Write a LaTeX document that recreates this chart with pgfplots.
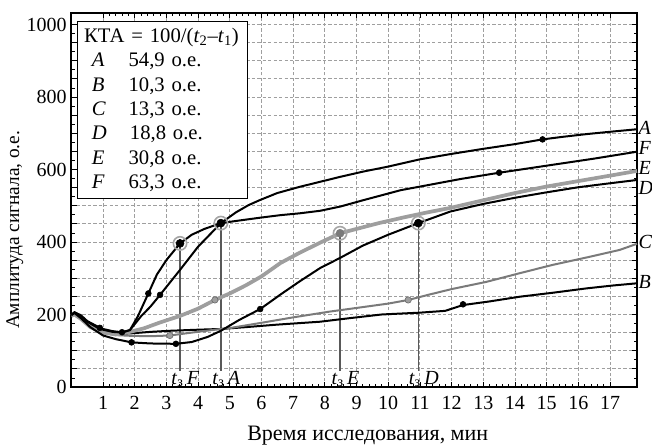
\documentclass[border=0pt]{standalone}
\usepackage{pgfplots}
\pgfplotsset{compat=1.18}
\usepackage{fontspec}
\setmainfont{Liberation Serif}
\definecolor{cE}{gray}{0.62}
\definecolor{cC}{gray}{0.48}
\definecolor{vl}{gray}{0.35}
\begin{document}
\begin{tikzpicture}
\begin{axis}[
  name=ax,
  scale only axis,
  width=424.3pt, height=280.5pt,
  xmin=0, xmax=17.85, ymin=0, ymax=1031.7,
  clip=false,
  axis line style={line width=1.5pt},
  xtick={1,...,17},
  ytick={0,50,...,1000},
  yticklabels={0,{},{},{},200,{},{},{},400,{},{},{},600,{},{},{},800,{},{},{},1000},
  minor x tick num=4,
  minor y tick num=1,
  grid=major,
  grid style={gray!75, line width=0.7pt, dash pattern=on 2.5pt off 1.6pt},
  tick style={black, line width=0.6pt},
  major tick length=4pt, minor tick length=2.5pt,
  /pgf/number format/assume math mode=true,
  tick label style={font=\fontsize{15}{15}\selectfont},
  xticklabel style={yshift=-3.75pt},
  xlabel={Время исследования, мин},
  ylabel={Амплитуда сигнала, о.е.},
  xlabel style={at={(axis description cs:0.524,-0.131)}, anchor=center, font=\fontsize{16.5}{18}\selectfont},
  ylabel style={at={(axis description cs:-0.1,0.42)}, anchor=center, font=\fontsize{14.5}{18}\selectfont},
]
% vertical t3 lines
\addplot[vl, line width=1pt] coordinates {(3.43,45) (3.43,396)};
\addplot[vl, line width=1pt] coordinates {(4.72,45) (4.72,452)};
\addplot[vl, line width=1pt] coordinates {(8.48,45) (8.48,424)};
\addplot[vl, line width=1pt] coordinates {(10.95,45) (10.95,452)};
% B
\addplot[black, line width=1.5pt] coordinates {(0,200) (0.1,204) (0.3,192) (0.6,168) (1,152) (1.4,146) (1.9,148) (2.5,152) (3.11,155) (4,158) (4.72,160) (5.5,165) (6.5,172) (7.85,180) (8.8,190) (9.8,200) (11,205) (11.8,210) (12.36,226) (13.2,236) (14.15,249) (15.2,260) (16.26,272) (17.1,280) (17.85,286)};
% C
\addplot[cC, line width=1.5pt] coordinates {(0,198) (0.1,202) (0.3,188) (0.6,165) (1,150) (1.4,143) (1.9,141) (2.5,140) (3.11,142) (3.8,150) (4.72,160) (5.04,163) (6,177) (7,192) (8.16,208) (9,218) (10,230) (10.63,240) (11.3,255) (12,270) (13.1,290) (14.2,315) (15.2,337) (16.3,358) (17.3,378) (17.85,395)};
% E
\addplot[cE, line width=2.8pt] coordinates {(0,196) (0.1,200) (0.3,188) (0.6,165) (1,150) (1.4,145) (1.85,152) (2.3,162) (2.8,178) (3.43,196) (4,216) (4.53,240) (5,258) (5.5,280) (6,305) (6.6,342) (7.2,370) (7.85,398) (8.48,424) (9,436) (9.7,452) (10.5,468) (11.2,481) (11.96,494) (13,515) (14,535) (15,553) (16,568) (17,583) (17.85,596)};
% D
\addplot[black, line width=1.5pt] coordinates {(0,200) (0.1,204) (0.3,190) (0.6,165) (1,142) (1.4,132) (1.9,123) (2.5,120) (3.3,119) (3.8,124) (4.3,138) (4.72,155) (5.3,185) (5.96,215) (6.6,255) (7.2,291) (7.85,328) (8.48,356) (9.2,390) (10,420) (10.95,452) (11.96,484) (13,505) (14,522) (15,537) (16,551) (17,562) (17.85,571)};
% F
\addplot[black, line width=1.5pt] coordinates {(0,198) (0.1,206) (0.3,196) (0.5,180) (0.8,165) (1,158) (1.3,152) (1.6,150) (1.85,157) (2.1,195) (2.43,258) (2.7,310) (3.0,350) (3.43,396) (3.8,420) (4.2,436) (4.72,452) (5.2,458) (5.96,467) (6.6,474) (7.2,479) (7.85,486) (8.5,498) (9.2,515) (10.4,543) (11.2,556) (12.3,574) (13.5,591) (14.5,604) (15.5,617) (16.5,630) (17.85,649)};
% A
\addplot[black, line width=1.5pt] coordinates {(0,198) (0.1,206) (0.3,198) (0.5,182) (0.8,168) (1,160) (1.3,154) (1.6,151) (1.85,157) (2.2,195) (2.5,222) (2.8,254) (3.43,323) (4,387) (4.72,452) (5.2,482) (5.6,502) (5.96,516) (6.5,535) (7.2,552) (7.85,566) (8.5,580) (9.2,594) (10,608) (11,628) (12,643) (13,657) (14,670) (14.87,683) (15.5,690) (16.3,698) (17,704) (17.85,711)};
% small markers
\addplot[only marks, mark=*, mark size=2.2pt, black] coordinates {(2.8,254) (14.87,683) (2.43,258) (13.5,591) (3.3,119) (5.96,215) (1.9,123) (12.36,228) (0.9,163) (1.6,151)};
\addplot[only marks, mark=*, mark size=2.4pt, draw=cC!80!black, fill=cE] coordinates {(4.53,240) (3.11,142) (10.63,240)};
% big t3 markers
\addplot[only marks, mark=*, mark size=3pt, black] coordinates {(3.43,396) (4.72,452) (10.95,452)};
\addplot[only marks, mark=*, mark size=3pt, cC] coordinates {(8.48,424)};
\addplot[only marks, mark=o, mark size=5pt, line width=1.2pt, gray!70] coordinates {(3.43,396) (4.72,452) (10.95,452) (8.48,424)};
% right labels
\node[anchor=west, inner sep=1pt, font=\fontsize{15}{15}\selectfont\itshape] at (axis cs:17.85,715) {A};
\node[anchor=west, inner sep=1pt, font=\fontsize{15}{15}\selectfont\itshape] at (axis cs:17.85,659) {F};
\node[anchor=west, inner sep=1pt, font=\fontsize{15}{15}\selectfont\itshape] at (axis cs:17.85,604) {E};
\node[anchor=west, inner sep=1pt, font=\fontsize{15}{15}\selectfont\itshape] at (axis cs:17.85,549) {D};
\node[anchor=west, inner sep=1pt, font=\fontsize{15}{15}\selectfont\itshape] at (axis cs:17.85,400) {C};
\node[anchor=west, inner sep=1pt, font=\fontsize{15}{15}\selectfont\itshape] at (axis cs:17.85,290) {B};
% bottom labels
\node[anchor=base, inner sep=0pt, font=\fontsize{15}{15}\selectfont] at (axis cs:3.6,8) {\textit{t}\textsubscript{з}\,\textit{F}};
\node[anchor=base, inner sep=0pt, font=\fontsize{15}{15}\selectfont] at (axis cs:4.89,8) {\textit{t}\textsubscript{з}\,\textit{A}};
\node[anchor=base, inner sep=0pt, font=\fontsize{15}{15}\selectfont] at (axis cs:8.65,8) {\textit{t}\textsubscript{з}\,\textit{E}};
\node[anchor=base, inner sep=0pt, font=\fontsize{15}{15}\selectfont] at (axis cs:11.12,8) {\textit{t}\textsubscript{з}\,\textit{D}};
% info box
\node[anchor=north west, draw=black, line width=0.8pt, fill=white, inner xsep=4.75pt, inner ysep=5pt,
      text width=118pt, align=left, font=\fontsize{15.5}{18.3}\selectfont]
  at (rel axis cs:0.0106,0.979) {%
  КТА = 100/(\textit{t}\textsubscript{2}–\textit{t}\textsubscript{1})\\
  \hspace*{5.8pt}\makebox[27.5pt][l]{\textit{A}}54,9 о.е.\\
  \hspace*{5.8pt}\makebox[27.5pt][l]{\textit{B}}10,3 о.е.\\
  \hspace*{5.8pt}\makebox[27.5pt][l]{\textit{C}}13,3 о.е.\\
  \hspace*{5.8pt}\makebox[28.5pt][l]{\textit{D}}18,8 о.е.\\
  \hspace*{5.8pt}\makebox[27.5pt][l]{\textit{E}}30,8 о.е.\\
  \hspace*{5.8pt}\makebox[27.5pt][l]{\textit{F}}63,3 о.е.};
\end{axis}
\pgfresetboundingbox
\path[use as bounding box] ([xshift=-53.5pt,yshift=-44.25pt]ax.south west) rectangle ([xshift=11.25pt,yshift=9.75pt]ax.north east);
\end{tikzpicture}
\end{document}
